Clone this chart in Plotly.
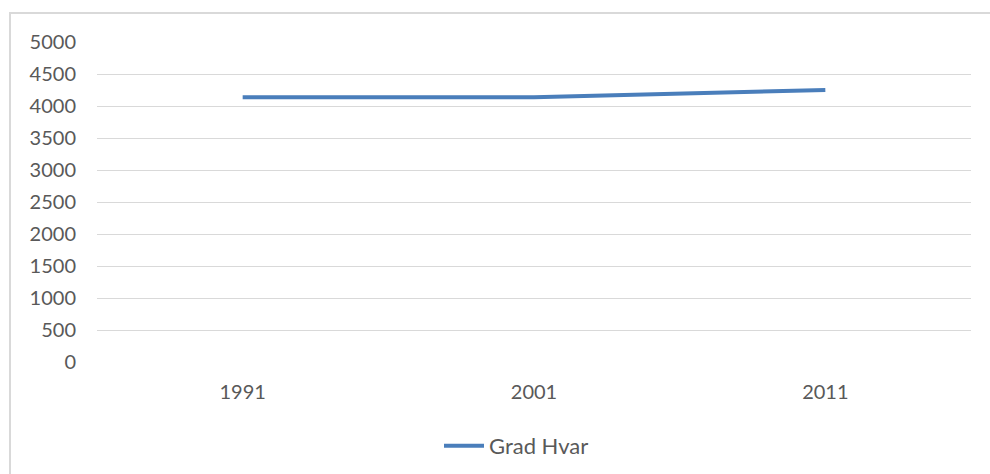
import plotly.graph_objects as go

years = ["1991", "2001", "2011"]
population = [4135, 4137, 4251]
series_name = "Grad Hvar"
y_ticks = [0, 500, 1000, 1500, 2000, 2500, 3000, 3500, 4000, 4500, 5000]

W, H = 990, 474
L, R, T, B = 97, 19, 42, 112
pw = W - L - R
ph = H - T - B

fig = go.Figure()
fig.add_trace(go.Scatter(
    x=years, y=population, mode="lines", name=series_name,
    line=dict(color="#4A7EBB", width=4),
))

def px_x(px):
    return (px - L) / pw

def px_y(py):
    return (H - B - py) / ph

fig.update_layout(
    width=W, height=H,
    margin=dict(l=L, r=R, t=T, b=B, autoexpand=False),
    paper_bgcolor="white", plot_bgcolor="white",
    font=dict(family="Lato, 'Open Sans', sans-serif", size=20, color="#595959"),
    showlegend=True,
    legend=dict(orientation="h", x=px_x(439), xanchor="left", y=px_y(446), yanchor="middle",
                font=dict(size=22, color="#595959"), itemwidth=40),
    xaxis=dict(type="category", range=[-0.5, 2.5], showgrid=False, zeroline=False,
               showline=False, ticks="", ticklabelstandoff=16),
    yaxis=dict(range=[0, 5000], tickvals=y_ticks, showgrid=True, gridcolor="#D9D9D9",
               gridwidth=1, zeroline=False, showline=False, ticks="", ticklabelstandoff=20),
    shapes=[dict(type="rect", xref="paper", yref="paper",
                 x0=px_x(10), x1=px_x(1000), y0=px_y(490), y1=px_y(13),
                 line=dict(color="#D9D9D9", width=2), fillcolor="rgba(0,0,0,0)", layer="below")],
)

fig.write_html("out.html", config={"displayModeBar": False},
               post_script="document.body.style.margin='0';")
